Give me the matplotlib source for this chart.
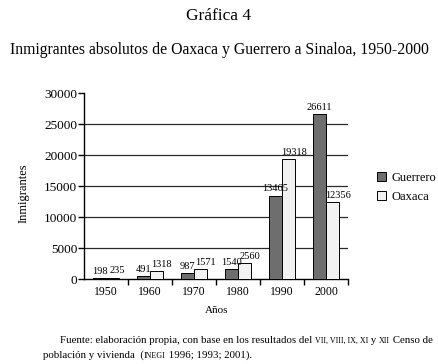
"""
Inmigrantes absolutos de Oaxaca y Guerrero a Sinaloa, 1950-2000
"""

import matplotlib

matplotlib.use("Agg")
import numpy as np
from matplotlib import pyplot as plt

years = ["1950", "1960", "1970", "1980", "1990", "2000"]
guerrero = [198, 491, 987, 1540, 13465, 26611]
oaxaca = [235, 1318, 1571, 2560, 19318, 12356]
y_ticks = [0, 5000, 10000, 15000, 20000, 25000, 30000]

SERIF = "Liberation Serif"


def draw_pieces(fig, renderer, x, y, pieces):
    """
    Draws a line of text made of pieces in different sizes, one after another
    """
    inv = fig.transFigure.inverted()
    for text, size in pieces:
        t = fig.text(x, y, text, fontsize=size, family=SERIF, va="baseline")
        bb = t.get_window_extent(renderer)
        x = inv.transform((bb.x1, bb.y0))[0]


def label_bars(ax, bars, values, dx):
    """
    Writes the value above each bar, shifted dx points sideways
    """
    for bar, v in zip(bars, values):
        ax.annotate(f"{v}", (bar.get_x() + bar.get_width() / 2, v),
                    xytext=(dx, 1.5), textcoords="offset points",
                    ha="center", va="bottom", fontsize=7.5)


def main():
    plt.rcParams["font.family"] = SERIF
    fig = plt.figure(figsize=(4.38, 3.64), dpi=100)
    ax = fig.add_axes([0.192, 0.2335, 0.603, 0.511])

    x = np.arange(len(years))
    width = 0.3
    b1 = ax.bar(x - width / 2, guerrero, width, color="#6e6e6e",
                edgecolor="black", linewidth=0.7, label="Guerrero", zorder=3)
    b2 = ax.bar(x + width / 2, oaxaca, width, color="#f2f2f2",
                edgecolor="black", linewidth=0.7, label="Oaxaca", zorder=3)
    label_bars(ax, b1, guerrero, 0)
    label_bars(ax, b2, oaxaca, 3.5)

    ax.set_xlim(-0.5, len(years) - 0.5)
    ax.set_ylim(0, 30000)
    ax.set_yticks(y_ticks)
    ax.set_xticks(x)
    ax.set_xticklabels(years)
    ax.set_xticks(np.arange(len(years)) + 0.5, minor=True)
    ax.tick_params(axis="x", which="major", length=0, labelsize=8.5, pad=5)
    ax.tick_params(axis="x", which="minor", length=4, width=1, direction="out")
    ax.tick_params(axis="y", length=4, width=1, labelsize=9.5, pad=1)

    for v in y_ticks[1:-1]:
        ax.axhline(v, color="#2a2a2a", linewidth=0.9, zorder=1)

    for side in ["top", "right"]:
        ax.spines[side].set_visible(False)
    ax.spines["left"].set_linewidth(1)
    ax.spines["bottom"].set_linewidth(1)

    ax.set_ylabel("Inmigrantes", fontsize=9)
    ax.yaxis.set_label_coords(-0.205, 0.46)
    ax.set_xlabel("Años", fontsize=8, labelpad=6)

    fig.legend(loc="center left", bbox_to_anchor=(0.835, 0.485), frameon=False,
               fontsize=9, handlelength=0.75, handleheight=0.75,
               handletextpad=0.45, labelspacing=0.55)

    fig.text(0.5, 0.955, "Gráfica 4", ha="center", va="center", fontsize=12.5)
    fig.text(0.5, 0.862,
             "Inmigrantes absolutos de Oaxaca y Guerrero a Sinaloa, 1950-2000",
             ha="center", va="center", fontsize=11.3)

    fig.canvas.draw()
    renderer = fig.canvas.get_renderer()
    draw_pieces(fig, renderer, 0.137, 1 - 343 / 364, [
        ("Fuente: elaboración propia, con base en los resultados del ", 7.8),
        ("VII, VIII, IX, XI", 5.8),
        (" y ", 7.8),
        ("XII", 5.8),
        (" Censo de", 7.8),
    ])
    draw_pieces(fig, renderer, 0.098, 1 - 358 / 364, [
        ("población y vivienda  (", 7.8),
        ("INEGI", 5.8),
        (" 1996; 1993; 2001).", 7.8),
    ])

    fig.savefig("out.png", dpi=100)


if __name__ == "__main__":
    main()
